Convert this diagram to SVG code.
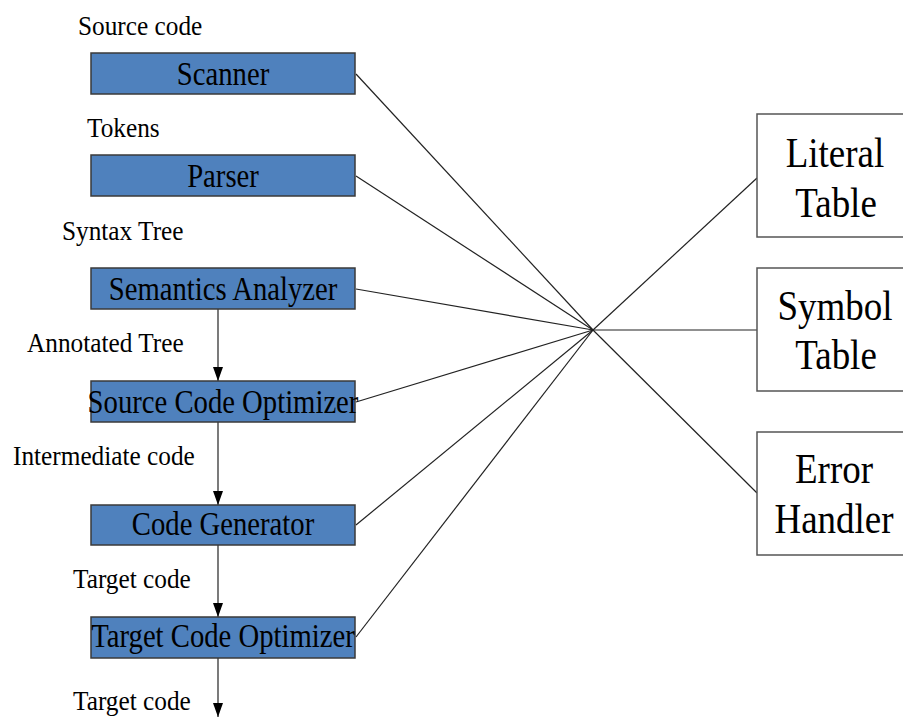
<svg xmlns="http://www.w3.org/2000/svg" width="903" height="717" viewBox="0 0 903 717">
<style>
.box{fill:#4F81BD;stroke:#3a3a3a;stroke-width:1.5}
.tbl{fill:#fff;stroke:#555;stroke-width:1.5}
.ln{stroke:#222;stroke-width:1.2;fill:none}
</style>
<defs>
<marker id="av" viewBox="0 0 14 10" markerWidth="14" markerHeight="10" refX="14" refY="5" orient="auto" markerUnits="userSpaceOnUse">
<path d="M0,0 L14,5 L0,10 Z" fill="#000"/>
</marker>
</defs>
<g id="connectors">
<line class="ln" x1="356" y1="74" x2="593" y2="330"/>
<line class="ln" x1="356" y1="176" x2="593" y2="330"/>
<line class="ln" x1="356" y1="289" x2="593" y2="330"/>
<line class="ln" x1="356" y1="402" x2="593" y2="330"/>
<line class="ln" x1="356" y1="525" x2="593" y2="330"/>
<line class="ln" x1="356" y1="637" x2="593" y2="330"/>
<line class="ln" x1="593" y1="330" x2="757" y2="178"/>
<line class="ln" x1="593" y1="330" x2="757" y2="330"/>
<line class="ln" x1="593" y1="330" x2="757" y2="493"/>
<line class="ln" x1="218" y1="309" x2="218" y2="381" marker-end="url(#av)"/>
<line class="ln" x1="218" y1="422" x2="218" y2="505" marker-end="url(#av)"/>
<line class="ln" x1="218" y1="545" x2="218" y2="617" marker-end="url(#av)"/>
<line class="ln" x1="218" y1="658" x2="218" y2="717" marker-end="url(#av)"/>
</g>
<g id="scanner"><rect class="box" x="91" y="53" width="264" height="41"/><text font-family="Liberation Serif, serif" font-size="28.7" text-anchor="middle" transform="translate(223,85) scale(1,1.15)">Scanner</text></g>
<g id="parser"><rect class="box" x="91" y="155" width="264" height="41"/><text font-family="Liberation Serif, serif" font-size="28.7" text-anchor="middle" transform="translate(223,187) scale(1,1.15)">Parser</text></g>
<g id="semantics"><rect class="box" x="91" y="268" width="264" height="41"/><text font-family="Liberation Serif, serif" font-size="28.7" text-anchor="middle" transform="translate(223,300) scale(1,1.15)">Semantics Analyzer</text></g>
<g id="sco"><rect class="box" x="91" y="381" width="264" height="41"/><text font-family="Liberation Serif, serif" font-size="28.7" text-anchor="middle" transform="translate(223,413) scale(1,1.15)">Source Code Optimizer</text></g>
<g id="codegen"><rect class="box" x="91" y="505" width="264" height="40"/><text font-family="Liberation Serif, serif" font-size="28.7" text-anchor="middle" transform="translate(223,535) scale(1,1.15)">Code Generator</text></g>
<g id="tco"><rect class="box" x="91" y="617" width="264" height="41"/><text font-family="Liberation Serif, serif" font-size="28.7" text-anchor="middle" transform="translate(223,647) scale(1,1.15)">Target Code Optimizer</text></g>
<g id="literal"><rect class="tbl" x="757" y="114" width="160" height="123"/><text font-family="Liberation Serif, serif" font-size="37" text-anchor="middle" transform="translate(835,167) scale(1,1.15)">Literal</text><text font-family="Liberation Serif, serif" font-size="37" text-anchor="middle" transform="translate(836,217) scale(1,1.15)">Table</text></g>
<g id="symbol"><rect class="tbl" x="757" y="268" width="160" height="123"/><text font-family="Liberation Serif, serif" font-size="37" text-anchor="middle" transform="translate(835,320) scale(1,1.15)">Symbol</text><text font-family="Liberation Serif, serif" font-size="37" text-anchor="middle" transform="translate(836,369) scale(1,1.15)">Table</text></g>
<g id="error"><rect class="tbl" x="757" y="432" width="160" height="123"/><text font-family="Liberation Serif, serif" font-size="37" text-anchor="middle" transform="translate(834,483) scale(1,1.15)">Error</text><text font-family="Liberation Serif, serif" font-size="37" text-anchor="middle" transform="translate(834,533) scale(1,1.15)">Handler</text></g>
<g id="labels">
<text font-family="Liberation Serif, serif" font-size="25.3" transform="translate(78,35) scale(1,1.1)">Source code</text>
<text font-family="Liberation Serif, serif" font-size="25.3" transform="translate(87,137) scale(1,1.1)">Tokens</text>
<text font-family="Liberation Serif, serif" font-size="25.3" transform="translate(62,240) scale(1,1.1)">Syntax Tree</text>
<text font-family="Liberation Serif, serif" font-size="25.3" transform="translate(27,352) scale(1,1.1)">Annotated Tree</text>
<text font-family="Liberation Serif, serif" font-size="25.3" transform="translate(13,465) scale(1,1.1)">Intermediate code</text>
<text font-family="Liberation Serif, serif" font-size="25.3" transform="translate(73,588) scale(1,1.1)">Target code</text>
<text font-family="Liberation Serif, serif" font-size="25.3" transform="translate(73,710) scale(1,1.1)">Target code</text>
</g>
</svg>
